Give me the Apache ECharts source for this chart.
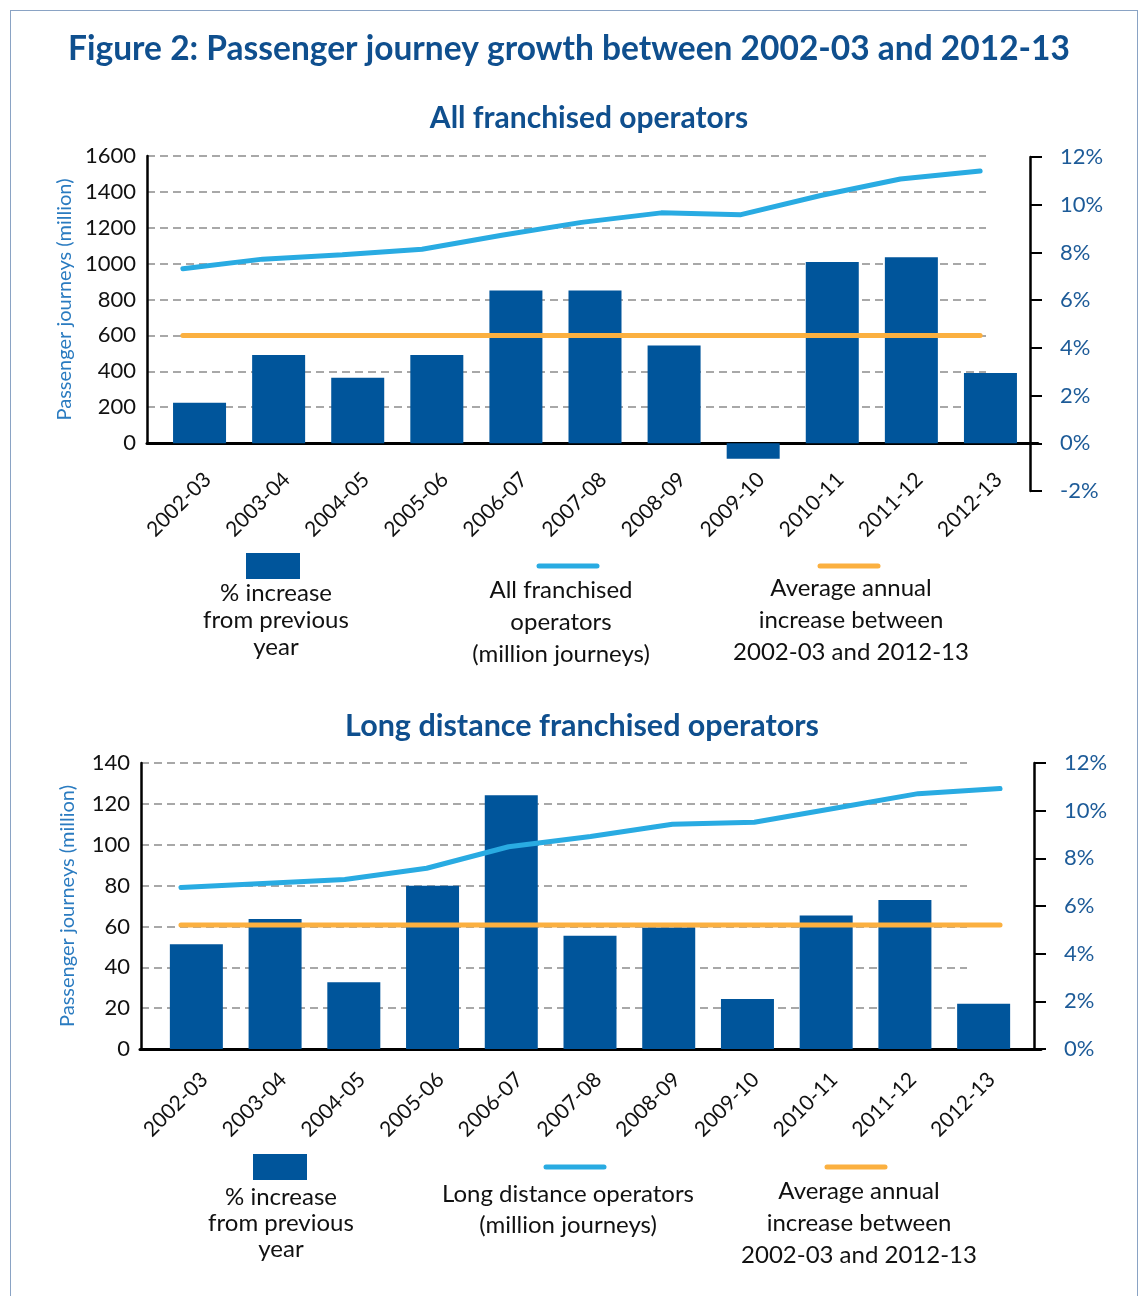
<!DOCTYPE html>
<html>
<head>
<meta charset="utf-8">
<title>Passenger journey growth</title>
<script src="https://cdn.jsdelivr.net/npm/echarts@6/dist/echarts.min.js"></script>
<style>
html, body { margin: 0; padding: 0; background: #fff; }
#frame {
  position: absolute; left: 10px; top: 10px; width: 1126px; height: 1300px;
  border: 1px solid #8aa3c4; border-bottom: none;
}
#chart { position: absolute; left: 0; top: 0; width: 1138px; height: 1296px; }
</style>
</head>
<body>
<div id="frame"></div>
<div id="chart"></div>
<script>
const years = ['2002-03', '2003-04', '2004-05', '2005-06', '2006-07', '2007-08',
  '2008-09', '2009-10', '2010-11', '2011-12', '2012-13'];

// All franchised operators
const allPct = [1.7, 3.7, 2.75, 3.7, 6.4, 6.4, 4.1, -0.65, 7.6, 7.8, 2.95];
const allJourneys = [972, 1025, 1049, 1080, 1158, 1230, 1283, 1273, 1380, 1472, 1517];
const allAvg = [4.5, 4.5, 4.5, 4.5, 4.5, 4.5, 4.5, 4.5, 4.5, 4.5, 4.5];
const allJourneyAxis = [0, 1600, 200];   // min, max, interval
const allPctAxis = [-2, 12, 2];

// Long distance franchised operators
const ldPct = [4.4, 5.45, 2.8, 6.85, 10.65, 4.75, 5.1, 2.1, 5.6, 6.25, 1.9];
const ldJourneys = [79, 81, 83, 88.5, 99, 104, 110, 111, 118, 125, 127.5];
const ldAvg = [5.2, 5.2, 5.2, 5.2, 5.2, 5.2, 5.2, 5.2, 5.2, 5.2, 5.2];
const ldJourneyAxis = [0, 140, 20];
const ldPctAxis = [0, 12, 2];

const BAR = '#00559b';
const LINE = '#29abe2';
const AVG = '#fbb040';
const NAVY = '#0f4f8e';
const FONT = 'Lato';

const chart = echarts.init(document.getElementById('chart'));

const hiddenX = (grid) => ({ type: 'category', gridIndex: grid, data: years, show: false });
const hiddenY = (grid, r) => ({ type: 'value', gridIndex: grid, min: r[0], max: r[1], show: false });

const leftAxis = (grid, r, gap) => ({
  type: 'value', gridIndex: grid, min: r[0], max: r[1], interval: r[2],
  name: 'Passenger journeys (million)', nameLocation: 'middle', nameGap: gap,
  nameTextStyle: { color: '#2a7bc0', fontSize: 20, fontFamily: FONT },
  axisLine: { show: true, lineStyle: { color: '#000', width: 2.5 } },
  axisTick: { show: false },
  axisLabel: { color: '#111', fontSize: 22, fontFamily: FONT, margin: 11, formatter: v => String(v) },
  splitLine: { show: true, lineStyle: { color: '#8c8c8c', width: 1.5, type: [8, 5] } }
});

const rightAxis = (grid, r, offset) => ({
  type: 'value', gridIndex: grid, position: 'right', offset: offset,
  min: r[0], max: r[1], interval: r[2],
  axisLine: { show: true, lineStyle: { color: '#000', width: 2.5 } },
  axisTick: { show: true, length: 12, lineStyle: { color: '#000', width: 2 } },
  axisLabel: { color: '#1d5b98', fontSize: 22, fontFamily: FONT, margin: 30, formatter: '{value}%' },
  splitLine: { show: false }
});

// x axis that only carries the year labels
const labelX = (grid, margin, showLine) => ({
  type: 'category', gridIndex: grid, data: years,
  axisLine: { show: showLine, onZero: false, lineStyle: { color: '#000', width: 3 } },
  axisTick: { show: false },
  axisLabel: { rotate: 45, color: '#111', fontSize: 21, fontFamily: FONT, margin: margin, interval: 0 }
});

// x axis that only draws the black base line
const lineX = (grid) => ({
  type: 'category', gridIndex: grid, data: years,
  axisLine: { show: true, onZero: false, lineStyle: { color: '#000', width: 3 } },
  axisTick: { show: false }, axisLabel: { show: false }
});

const legendText = (x, y, text, lh) => ({
  type: 'text', x: x, y: y,
  style: {
    text: text, fill: '#111', fontSize: 24, fontFamily: FONT, lineHeight: lh,
    textAlign: 'center', align: 'center', textVerticalAlign: 'middle', verticalAlign: 'middle'
  }
});
const legendLine = (x1, x2, y, color) => ({
  type: 'line', shape: { x1: x1, y1: y, x2: x2, y2: y },
  style: { stroke: color, lineWidth: 5, lineCap: 'round' }
});

chart.setOption({
  animation: false,
  title: [
    { text: 'Figure 2: Passenger journey growth between 2002-03 and 2012-13', left: 'center', top: 32, padding: 0,
      textStyle: { color: NAVY, fontSize: 33.5, fontWeight: 'bold', fontFamily: FONT } },
    { text: 'All franchised operators', left: 589, textAlign: 'center', top: 103, padding: 0,
      textStyle: { color: NAVY, fontSize: 30, fontWeight: 'bold', fontFamily: FONT } },
    { text: 'Long distance franchised operators', left: 582, textAlign: 'center', top: 711, padding: 0,
      textStyle: { color: NAVY, fontSize: 30.5, fontWeight: 'bold', fontFamily: FONT } }
  ],
  grid: [
    { left: 147, top: 156, width: 839, height: 287 },   // 0 split lines + left axis + base line
    { left: 160, top: 157, width: 870, height: 334 },   // 1 bars + right axis
    { left: 143, top: 156, width: 877, height: 287 },   // 2 lines
    { left: 168, top: 156, width: 870, height: 287 },   // 3 year labels
    { left: 141, top: 763, width: 826, height: 286 },   // 4 split lines + left axis
    { left: 157, top: 763, width: 866, height: 286 },   // 5 bars + right axis
    { left: 140, top: 763, width: 901, height: 286 },   // 6 lines + base line
    { left: 165, top: 763, width: 866, height: 286 }    // 7 year labels
  ],
  xAxis: [
    lineX(0),
    hiddenX(1),
    hiddenX(2),
    labelX(3, 33, true),
    hiddenX(4),
    hiddenX(5),
    lineX(6),
    labelX(7, 27, false)
  ],
  yAxis: [
    leftAxis(0, allJourneyAxis, 71),
    rightAxis(1, allPctAxis, 0),
    hiddenY(2, allJourneyAxis),
    hiddenY(2, [0, 12]),
    hiddenY(3, allJourneyAxis),
    leftAxis(4, ldJourneyAxis, 63),
    rightAxis(5, ldPctAxis, 11),
    hiddenY(6, ldJourneyAxis),
    hiddenY(6, ldPctAxis),
    hiddenY(7, ldJourneyAxis)
  ],
  series: [
    { name: '% increase from previous year', type: 'bar', xAxisIndex: 1, yAxisIndex: 1,
      data: allPct, barWidth: 53, itemStyle: { color: BAR } },
    { name: 'All franchised operators (million journeys)', type: 'line', xAxisIndex: 2, yAxisIndex: 2,
      data: allJourneys, symbol: 'none', z: 4, lineStyle: { color: LINE, width: 5, cap: 'round' } },
    { name: 'Average annual increase between 2002-03 and 2012-13', type: 'line', xAxisIndex: 2, yAxisIndex: 3,
      data: allAvg, symbol: 'none', z: 4, lineStyle: { color: AVG, width: 5, cap: 'round' } },
    { name: 'LD % increase from previous year', type: 'bar', xAxisIndex: 5, yAxisIndex: 6,
      data: ldPct, barWidth: 53, itemStyle: { color: BAR } },
    { name: 'Long distance operators (million journeys)', type: 'line', xAxisIndex: 6, yAxisIndex: 7,
      data: ldJourneys, symbol: 'none', z: 4, lineStyle: { color: LINE, width: 5, cap: 'round' } },
    { name: 'LD average annual increase', type: 'line', xAxisIndex: 6, yAxisIndex: 8,
      data: ldAvg, symbol: 'none', z: 4, lineStyle: { color: AVG, width: 5, cap: 'round' } }
  ],
  graphic: [
    { type: 'rect', shape: { x: 246, y: 553, width: 54, height: 26 }, style: { fill: BAR } },
    legendText(276, 620, '% increase\nfrom previous\nyear', 27),
    legendLine(539, 597, 566, LINE),
    legendText(561, 622, 'All franchised\noperators\n(million journeys)', 32),
    legendLine(820, 878, 566, AVG),
    legendText(851, 620, 'Average annual\nincrease between\n2002-03 and 2012-13', 32),

    { type: 'rect', shape: { x: 253, y: 1154, width: 54, height: 26 }, style: { fill: BAR } },
    legendText(281, 1223, '% increase\nfrom previous\nyear', 26),
    legendLine(546, 604, 1167, LINE),
    legendText(568, 1210, 'Long distance operators\n(million journeys)', 31),
    legendLine(827, 885, 1167, AVG),
    legendText(859, 1223, 'Average annual\nincrease between\n2002-03 and 2012-13', 32)
  ]
});
</script>
</body>
</html>
